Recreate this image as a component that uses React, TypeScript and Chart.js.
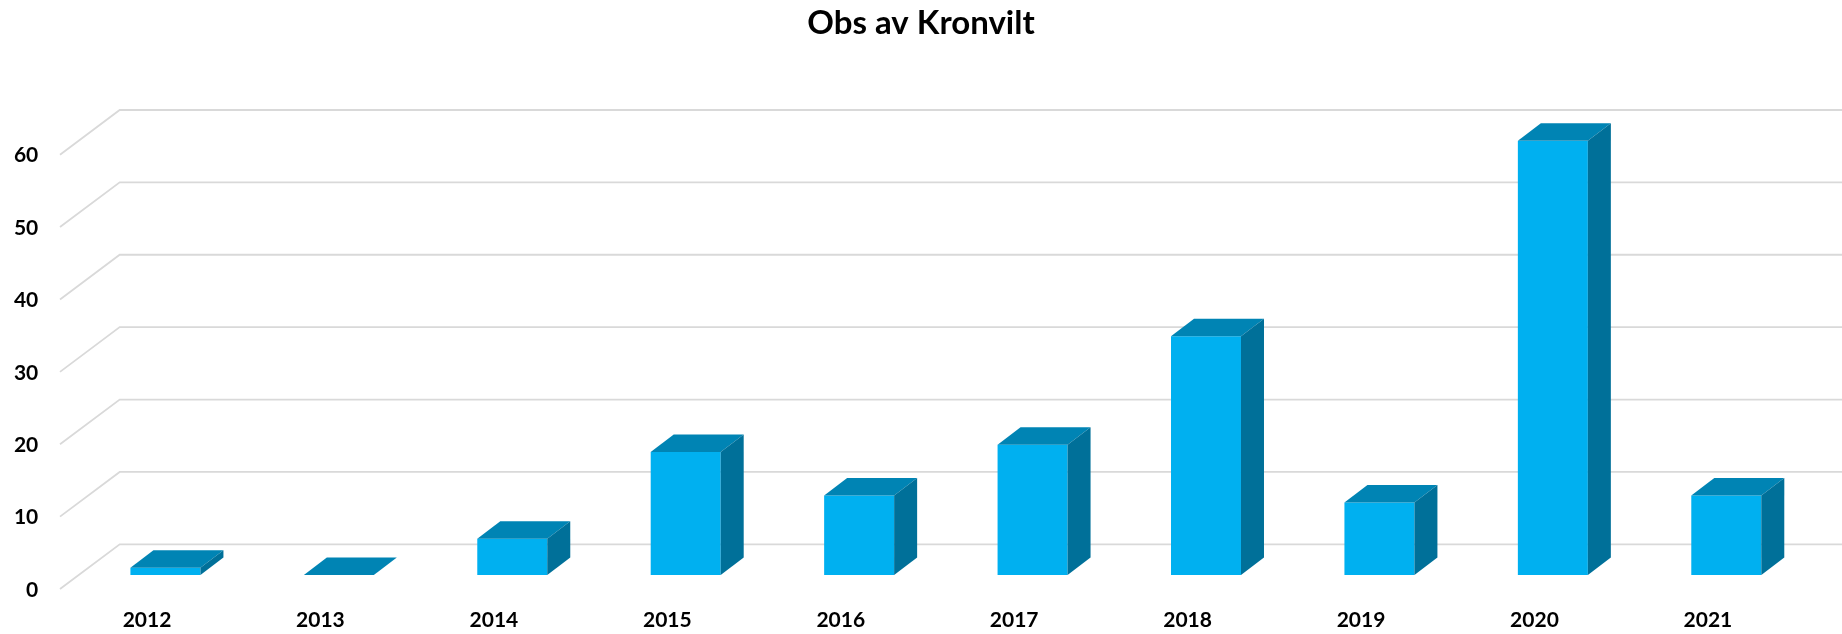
import React, { useEffect, useRef } from "react";
import { Chart, registerables } from "chart.js";

Chart.register(...registerables);

const TITLE = "Obs av Kronvilt";
const categories = ["2012", "2013", "2014", "2015", "2016", "2017", "2018", "2019", "2020", "2021"];
const observations = [1, 0, 5, 17, 11, 18, 33, 10, 60, 11];
const yMin = 0;
const yMax = 60;
const yStep = 10;

const FRONT_COLOR = "#00B0F0";
const TOP_COLOR = "#0084B4";
const SIDE_COLOR = "#007099";
const GRID_COLOR = "#D9D9D9";
const FONT = "Lato, 'Open Sans', 'DejaVu Sans', sans-serif";

// depth geometry (pixels)
const BAR_DX = 23;
const BAR_DY = 17.5;
const FLOOR_FRONT_DX = -18.7;
const FLOOR_FRONT_DY = 14;
const FLOOR_BACK_DX = 41;
const FLOOR_BACK_DY = -30.7;

const depthPlugin = {
  id: "depth3d",
  beforeDatasetsDraw(chart: any) {
    const { ctx, chartArea } = chart;
    const y = chart.scales.y;
    ctx.save();
    ctx.strokeStyle = GRID_COLOR;
    ctx.lineWidth = 1.8;
    y.ticks.forEach((t: any) => {
      const py = y.getPixelForValue(t.value);
      ctx.beginPath();
      ctx.moveTo(chartArea.left + FLOOR_FRONT_DX, py + FLOOR_FRONT_DY);
      ctx.lineTo(chartArea.left + FLOOR_BACK_DX, py + FLOOR_BACK_DY);
      ctx.lineTo(chart.width, py + FLOOR_BACK_DY);
      ctx.stroke();
    });
    ctx.restore();
  },
  afterDatasetsDraw(chart: any) {
    const { ctx } = chart;
    const meta = chart.getDatasetMeta(0);
    ctx.save();
    meta.data.forEach((bar: any) => {
      const { x, y, base, width } = bar.getProps(["x", "y", "base", "width"], true);
      const l = x - width / 2;
      const r = x + width / 2;
      // top face
      ctx.fillStyle = TOP_COLOR;
      ctx.beginPath();
      ctx.moveTo(l, y);
      ctx.lineTo(l + BAR_DX, y - BAR_DY);
      ctx.lineTo(r + BAR_DX, y - BAR_DY);
      ctx.lineTo(r, y);
      ctx.closePath();
      ctx.fill();
      // side face
      ctx.fillStyle = SIDE_COLOR;
      ctx.beginPath();
      ctx.moveTo(r, y);
      ctx.lineTo(r + BAR_DX, y - BAR_DY);
      ctx.lineTo(r + BAR_DX, base - BAR_DY);
      ctx.lineTo(r, base);
      ctx.closePath();
      ctx.fill();
    });
    ctx.restore();
  },
};

export default function App() {
  const canvasRef = useRef<HTMLCanvasElement | null>(null);

  useEffect(() => {
    if (!canvasRef.current) return;
    const chart = new Chart(canvasRef.current, {
      type: "bar",
      data: {
        labels: categories,
        datasets: [
          {
            label: TITLE,
            data: observations,
            backgroundColor: FRONT_COLOR,
            borderWidth: 0,
            categoryPercentage: 1,
            barPercentage: 0.4036,
          },
        ],
      },
      options: {
        responsive: false,
        animation: false,
        layout: { padding: 0 },
        plugins: {
          legend: { display: false },
          tooltip: { enabled: false },
          title: {
            display: true,
            text: TITLE,
            color: "#000000",
            font: { family: FONT, size: 33, weight: "bold", lineHeight: 1.2 },
            padding: { top: 4, bottom: 97.1 },
          },
        },
        scales: {
          x: {
            grid: { display: false, drawTicks: false },
            border: { display: false },
            ticks: {
              color: "#000000",
              font: { family: FONT, size: 21, weight: "bold" },
              labelOffset: -18.4,
              padding: 33,
              maxRotation: 0,
            },
            afterFit: (scale: any) => {
              scale.height = 59;
            },
          },
          y: {
            min: yMin,
            max: yMax,
            grid: { display: false, drawTicks: false },
            border: { display: false },
            ticks: {
              stepSize: yStep,
              color: "#000000",
              font: { family: FONT, size: 21, weight: "bold" },
              labelOffset: 15,
              padding: 40.4,
            },
            afterFit: (scale: any) => {
              scale.width = 78.7;
            },
          },
          yRight: {
            position: "right",
            min: yMin,
            max: yMax,
            grid: { display: false, drawTicks: false },
            border: { display: false },
            ticks: { display: false },
            afterFit: (scale: any) => {
              scale.width = 29;
            },
          },
        },
      },
      plugins: [depthPlugin],
    });
    return () => chart.destroy();
  }, []);

  return (
    <div style={{ position: "absolute", left: 0, top: 0, width: 1842, height: 634, background: "#ffffff" }}>
      <canvas ref={canvasRef} width={1842} height={634} style={{ display: "block" }} />
    </div>
  );
}
